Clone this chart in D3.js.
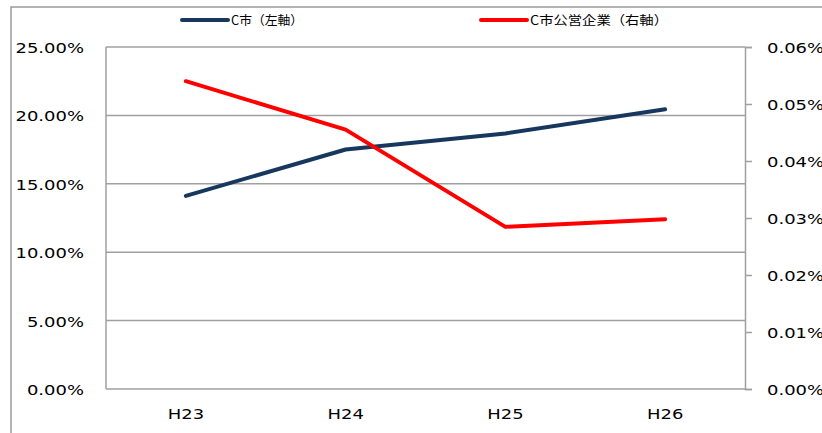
<!DOCTYPE html>
<html><head><meta charset="utf-8">
<script src="https://cdn.jsdelivr.net/npm/d3@7"></script>
<style>body{margin:0;background:#fff}svg{display:block}</style>
</head><body>
<svg id="c" width="822" height="433"></svg>
<script>
const categories = ["H23","H24","H25","H26"];
const cityValues = [14.12, 17.51, 18.68, 20.45];          // % left axis
const enterpriseValues = [0.0540, 0.0455, 0.02845, 0.0298]; // % right axis
const leftTicks = [0,5,10,15,20,25];
const rightTicks = [0,0.01,0.02,0.03,0.04,0.05,0.06];
const seriesNames = ["C市（左軸）","C市公営企業（右軸）"];
const seriesColors = ["#17375e","#ff0000"];

const svg = d3.select("#c");
const m = {left:106, right:745, top:47, bottom:389};
const x = d3.scaleBand().domain(categories).range([m.left, m.right]);
const yL = d3.scaleLinear().domain([0,25]).range([m.bottom, m.top]);
const yR = d3.scaleLinear().domain([0,0.06]).range([m.bottom, m.top]);
const grid = "#a0a0a0";
const SX = 1.24;
const font = "'DejaVu Sans', Verdana, sans-serif";

// outer border
svg.append("path").attr("d","M11,433 L11,7 L822,7").attr("fill","none")
  .attr("stroke","#9a9a9a").attr("stroke-width",1.5);

// gridlines
svg.append("g").selectAll("line").data(leftTicks).join("line")
  .attr("x1",m.left).attr("x2",m.right)
  .attr("y1",d=>yL(d)).attr("y2",d=>yL(d))
  .attr("stroke",grid).attr("stroke-width",1.5);

// left axis line
svg.append("line").attr("x1",m.left).attr("x2",m.left).attr("y1",m.top).attr("y2",m.bottom)
  .attr("stroke",grid).attr("stroke-width",1.5);

// right axis
const ra = svg.append("g").attr("transform",`translate(${m.right},0)`)
  .call(d3.axisRight(yR).tickValues(rightTicks).tickSize(7).tickFormat(()=>""));
ra.select(".domain").attr("stroke",grid).attr("stroke-width",1.5);
ra.selectAll(".tick line").attr("stroke",grid).attr("stroke-width",1.5);

function stretchedText(g, tx, ty, txt, anchor, size, fam, sx){
  return g.append("text").attr("transform",`translate(${tx},${ty}) scale(${sx},1)`)
    .attr("text-anchor",anchor).attr("font-family",fam).attr("font-size",size)
    .attr("fill","#000").text(txt);
}
const labels = svg.append("g");
leftTicks.forEach(t=>stretchedText(labels, 84, yL(t)+6, t.toFixed(2)+"%", "end", 14.5, font, SX));
rightTicks.forEach(t=>stretchedText(labels, 767, yR(t)+6, t.toFixed(2)+"%", "start", 14.5, font, SX));
categories.forEach(c=>stretchedText(labels, x(c)+x.bandwidth()/2, 419, c, "middle", 14.5, font, SX));

// lines
const lineL = d3.line().x((d,i)=>x(categories[i])+x.bandwidth()/2).y(d=>yL(d));
const lineR = d3.line().x((d,i)=>x(categories[i])+x.bandwidth()/2).y(d=>yR(d));
svg.append("path").datum(cityValues).attr("d",lineL).attr("fill","none")
  .attr("stroke",seriesColors[0]).attr("stroke-width",4).attr("stroke-linecap","round").attr("stroke-linejoin","round");
svg.append("path").datum(enterpriseValues).attr("d",lineR).attr("fill","none")
  .attr("stroke",seriesColors[1]).attr("stroke-width",4).attr("stroke-linecap","round").attr("stroke-linejoin","round");

// legend
const lg = svg.append("g");
const legendX = [182, 481];
const legendW = [72, 138];
seriesNames.forEach((n,i)=>{
  lg.append("line").attr("x1",legendX[i]).attr("x2",legendX[i]+46).attr("y1",20).attr("y2",20)
    .attr("stroke",seriesColors[i]).attr("stroke-width",4).attr("stroke-linecap","round");
  lg.append("text").attr("x",legendX[i]+49).attr("y",25)
    .attr("font-family","'Noto Sans CJK JP', sans-serif").attr("font-size",12.5)
    .attr("textLength",legendW[i]).attr("lengthAdjust","spacingAndGlyphs")
    .attr("fill","#000").text(n);
});
</script>
</body></html>
